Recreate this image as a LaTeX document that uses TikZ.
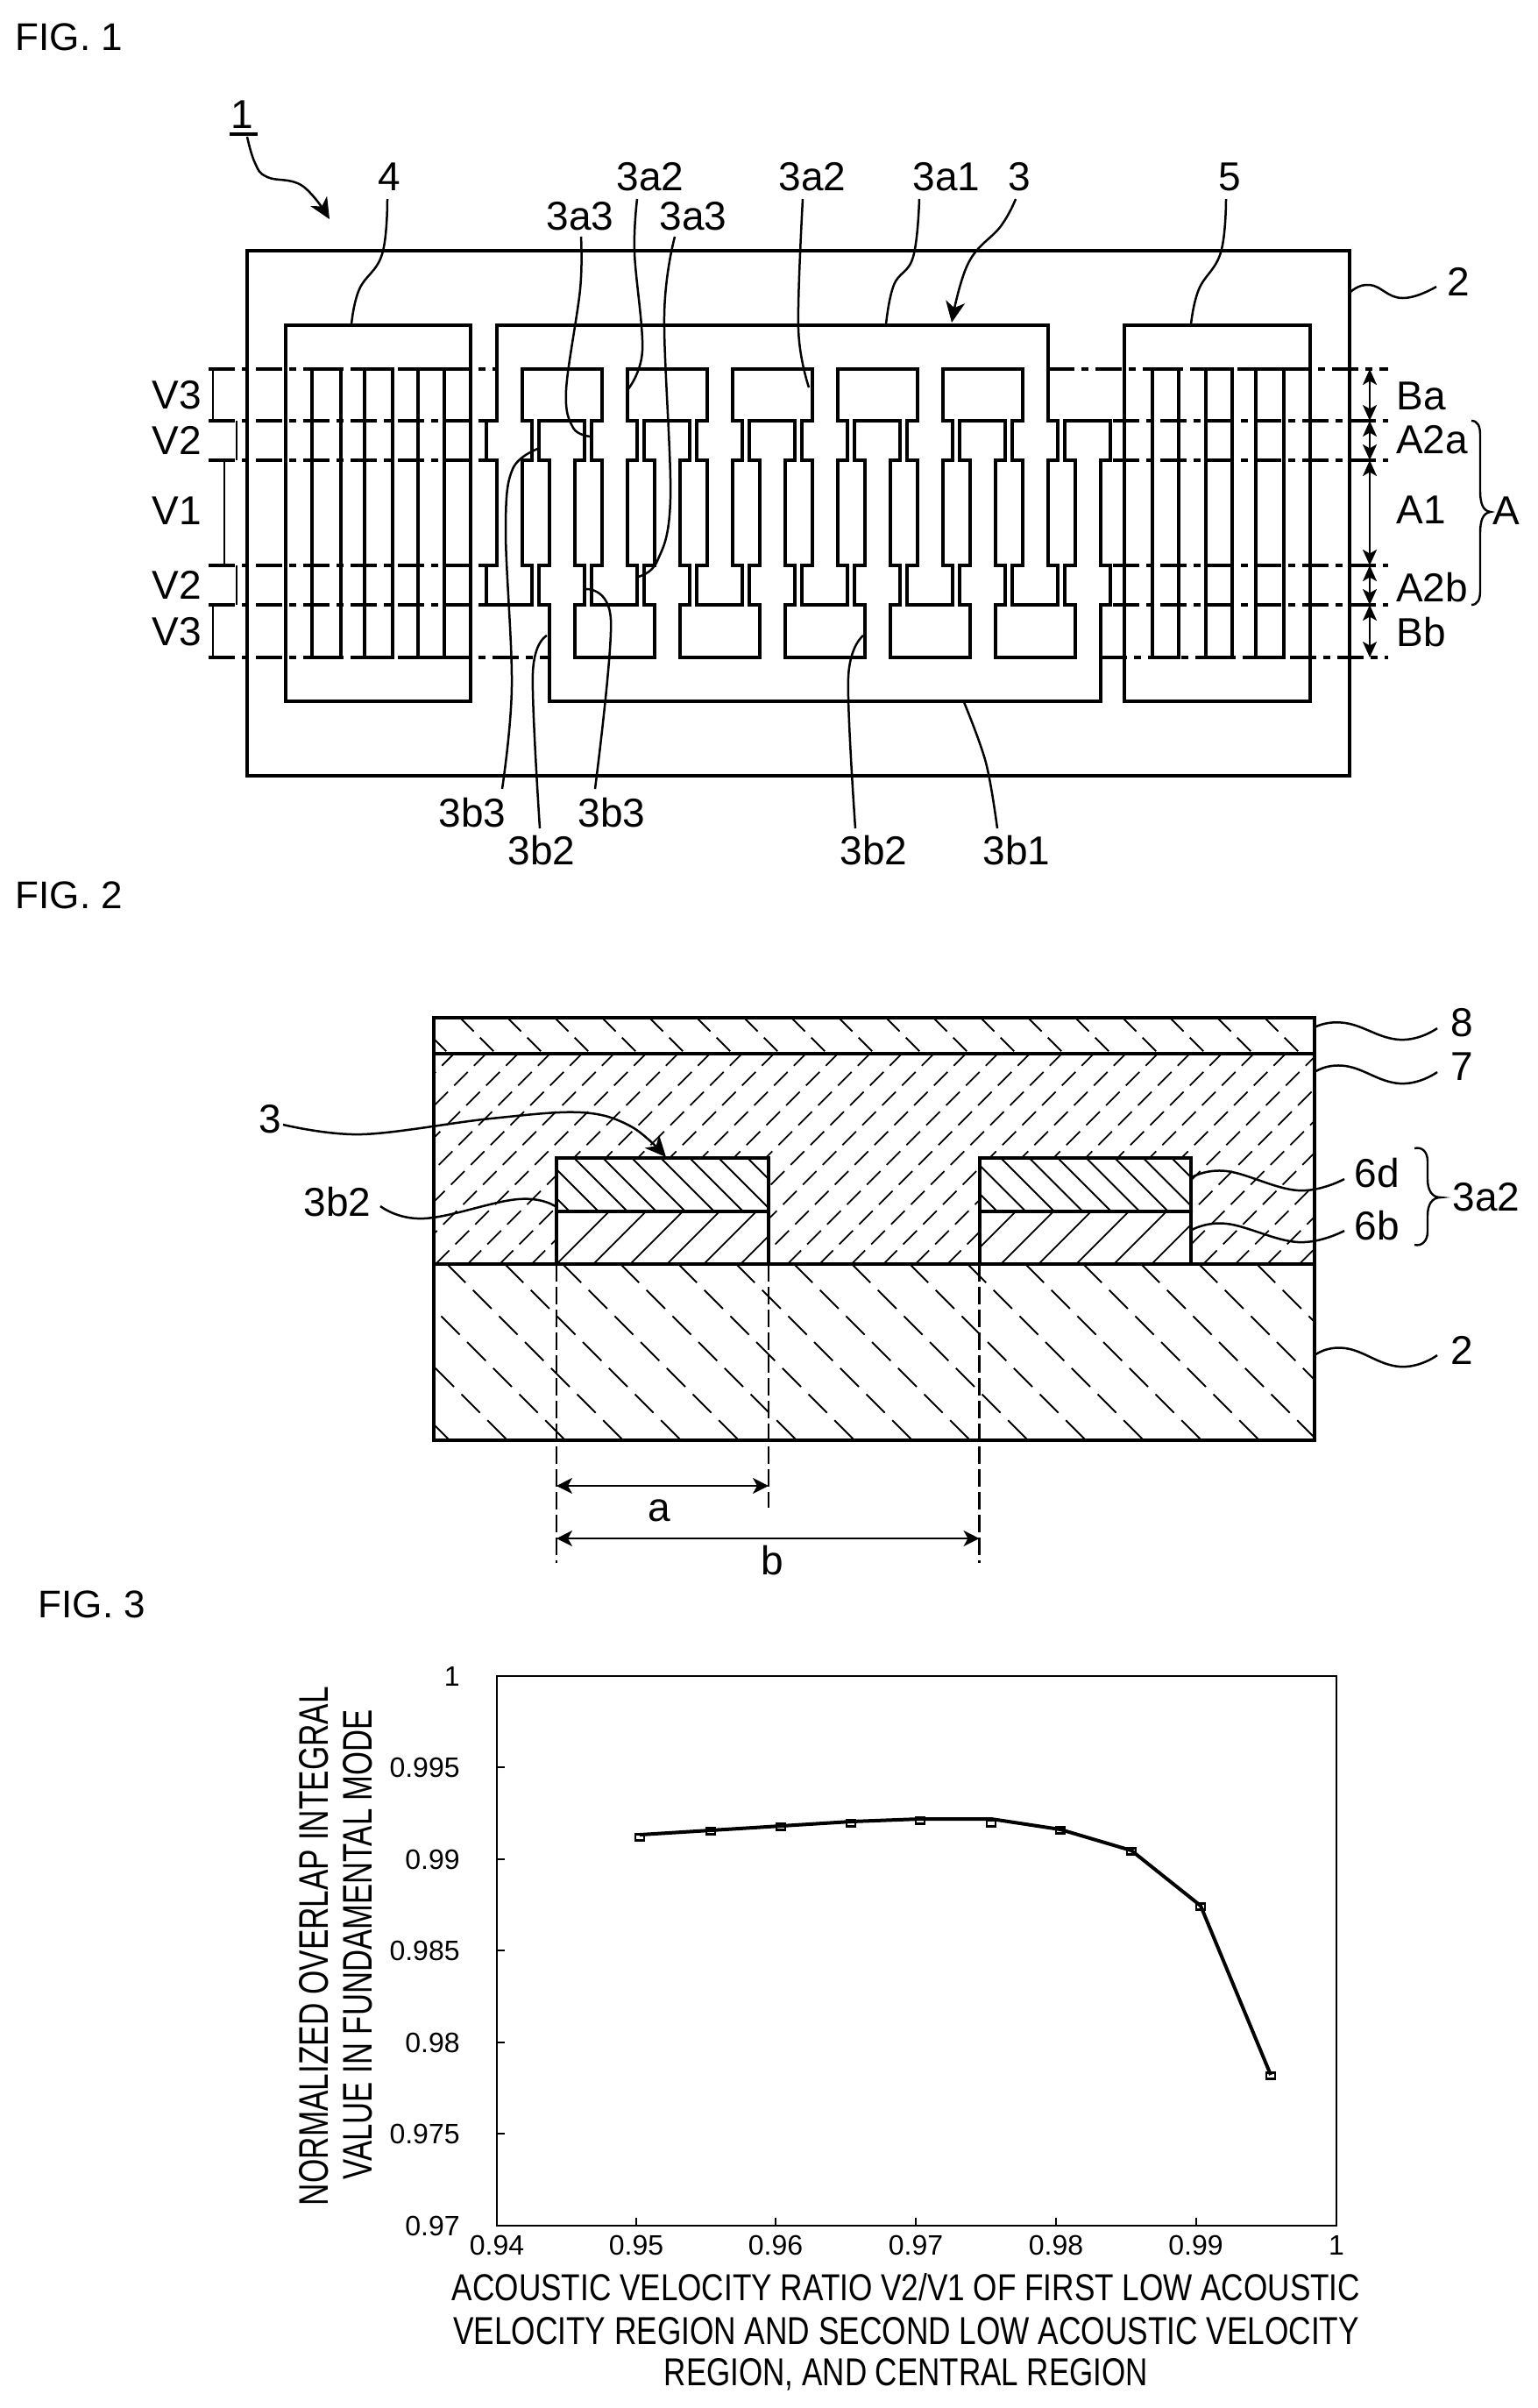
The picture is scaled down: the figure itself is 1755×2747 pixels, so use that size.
\documentclass[tikz,border=0pt]{standalone}
\usepackage{fontspec}
\usepackage{graphicx}
\setmainfont{Liberation Sans}
\usetikzlibrary{arrows.meta}
\tikzset{
  lab/.style={font=\fontsize{23}{23}\selectfont, inner sep=4pt},
  figlab/.style={font=\fontsize{22}{22}\selectfont, inner sep=0pt},
  tick/.style={font=\fontsize{16}{16}\selectfont, inner sep=0pt},
  thick1/.style={line width=2pt, line join=miter},
  thin1/.style={line width=1.2pt},
  ldr/.style={line width=1.25pt},
  tipped/.style={-{Stealth[length=12pt,width=11pt,inset=3.5pt]}},
  dimtip/.style={{Stealth[length=9pt,width=8pt,inset=2.2pt]}-{Stealth[length=9pt,width=8pt,inset=2.2pt]}, line width=1.1pt},
  dd/.style={line width=1.7pt, dash pattern=on 15pt off 4pt on 4pt off 4pt},
  hatchA/.style={line width=.9pt, dash pattern=on 11pt off 5pt},
  hatchS/.style={line width=.9pt},
  vdash/.style={line width=1.2pt, dash pattern=on 10pt off 3pt},
}
\def\ya{421}\def\yb{480}\def\yc{525}\def\yd{645}\def\ye{690}\def\yf{750}
\begin{document}
\begin{tikzpicture}[x=.5pt,y=-.5pt]
\useasboundingbox (0,0) rectangle (1755,2747);
\fill[white] (0,0) rectangle (1755,2747);

% ---------- FIG 1 ----------
\node[figlab] (fig1) at (79,42) {FIG. 1};
\draw[thick1] (282,286) rectangle (1540,885);
\draw[thick1] (326,371) rectangle (537,800);
\draw[thick1] (1283,371) rectangle (1495,800);
\foreach \a/\b in {356/389,416/448,477/507,1315/1345,1376/1406,1433/1465}
  \draw[thick1] (\a,\ya) rectangle (\b,\yf);

% upper comb 3a1
\draw[thick1] (566.5,371) -- (566.5,\yb) -- (555,\yb) -- (555,\yc) -- (566.5,\yc) -- (566.5,\yd) -- (555,\yd) -- (555,\ye)
 foreach \k in {0,...,4} {
  -- ({581+120*\k+26},\ye) -- ({581+120*\k+26},\yd) -- ({581+120*\k+14.5},\yd) -- ({581+120*\k+14.5},\yc)
  -- ({581+120*\k+26},\yc) -- ({581+120*\k+26},\yb) -- ({581+120*\k+14.5},\yb) -- ({581+120*\k+14.5},\ya)
  -- ({581+120*\k+105.5},\ya) -- ({581+120*\k+105.5},\yb) -- ({581+120*\k+94},\yb) -- ({581+120*\k+94},\yc)
  -- ({581+120*\k+105.5},\yc) -- ({581+120*\k+105.5},\yd) -- ({581+120*\k+94},\yd) -- ({581+120*\k+94},\ye)
 }
 -- (1207,\ye) -- (1207,\yd) -- (1195.5,\yd) -- (1195.5,\yc) -- (1207,\yc) -- (1207,\yb) -- (1195.5,\yb) -- (1195.5,371) -- cycle;

% lower comb 3b1
\draw[thick1] (627,800) -- (627,\ye) -- (615,\ye) -- (615,\yd) -- (627,\yd) -- (627,\yc) -- (615,\yc) -- (615,\yb)
 foreach \k in {0,...,4} {
  -- ({641+120*\k+26},\yb) -- ({641+120*\k+26},\yc) -- ({641+120*\k+14.5},\yc) -- ({641+120*\k+14.5},\yd)
  -- ({641+120*\k+26},\yd) -- ({641+120*\k+26},\ye) -- ({641+120*\k+14.5},\ye) -- ({641+120*\k+14.5},\yf)
  -- ({641+120*\k+105.5},\yf) -- ({641+120*\k+105.5},\ye) -- ({641+120*\k+94},\ye) -- ({641+120*\k+94},\yd)
  -- ({641+120*\k+105.5},\yd) -- ({641+120*\k+105.5},\yc) -- ({641+120*\k+94},\yc) -- ({641+120*\k+94},\yb)
 }
 -- (1267,\yb) -- (1267,\yc) -- (1255.5,\yc) -- (1255.5,\yd) -- (1267,\yd) -- (1267,\ye) -- (1255.5,\ye) -- (1255.5,800) -- cycle;

% dash-dot lines
\draw[dd] (238,\ya) -- (566,\ya);
\draw[dd] (1196,\ya) -- (1584,\ya);
\foreach \y in {\yb,\yc,\yd,\ye} {
  \draw[dd] (238,\y) -- (555,\y);
  \draw[dd] (1270,\y) -- (1584,\y);
}
\draw[dd] (238,\yf) -- (627,\yf);
\draw[dd] (1256,\yf) -- (1584,\yf);

% left dimension brackets
\draw[thin1] (243,\ya) -- (243,\yb);
\draw[thin1] (270,\yb) -- (270,\yc);
\draw[thin1] (256,\yc) -- (256,\yd);
\draw[thin1] (270,\yd) -- (270,\ye);
\draw[thin1] (243,\ye) -- (243,\yf);
\node[lab] (v3a) at (202,451) {V3};
\node[lab] (v2a) at (202,502) {V2};
\node[lab] (v1) at (202,583) {V1};
\node[lab] (v2b) at (202,667) {V2};
\node[lab] (v3b) at (202,721) {V3};

% right dimensions
\coordinate (r1) at (1563,\ya); \coordinate (r2) at (1563,\yb); \coordinate (r3) at (1563,\yc);
\coordinate (r4) at (1563,\yd); \coordinate (r5) at (1563,\ye); \coordinate (r6) at (1563,\yf);
\draw[dimtip] (r1) -- (r2);
\draw[dimtip] (r2) -- (r3);
\draw[dimtip] (r3) -- (r4);
\draw[dimtip] (r4) -- (r5);
\draw[dimtip] (r5) -- (r6);
\node[lab] (ba) at (1622,452) {Ba};
\node[lab] (a2a) at (1634,502) {A2a};
\node[lab] (a1) at (1622,582) {A1};
\node[lab] (a2b) at (1634,670) {A2b};
\node[lab] (bb) at (1622,721) {Bb};
\node[lab] (A) at (1719,583) {A};
\draw[thin1] (1679,480) .. controls (1686,480) and (1689,486) .. (1689,496) -- (1689,560) .. controls (1689,574) and (1692,583) .. (1701,584)
  .. controls (1692,585) and (1689,594) .. (1689,608) -- (1689,674) .. controls (1689,684) and (1686,690) .. (1679,690);

% labels and leaders
\node[lab] (one) at (276,131) {1};
\draw[line width=1.6pt] (262,153) -- (294,153);
\draw[ldr,tipped] plot[smooth,tension=.7] coordinates {(282,156) (291,186) (305,202) (345,212) (376,250)};
\node[lab] (n4) at (444,202) {4};
\draw[ldr] plot[smooth,tension=.7] coordinates {(442,227) (436,290) (410,330) (401,370)};
\node[lab] (n3a3a) at (662,247) {3a3};
\draw[ldr] plot[smooth,tension=.6] coordinates {(663,270) (662,330) (646,445) (654,488) (674,498)};
\node[lab] (n3a2a) at (742,202) {3a2};
\draw[ldr] plot[smooth,tension=.6] coordinates {(727,227) (724,288) (733,400) (716,445)};
\node[lab] (n3a3b) at (791,247) {3a3};
\draw[ldr] plot[smooth,tension=.6] coordinates {(770,270) (758,360) (765,569) (750,640) (728,658)};
\node[lab] (n3a2b) at (927,202) {3a2};
\draw[ldr] plot[smooth,tension=.6] coordinates {(916,227) (911,375) (923,442)};
\node[lab] (n3a1) at (1080,202) {3a1};
\draw[ldr] plot[smooth,tension=.7] coordinates {(1049,227) (1042,293) (1020,325) (1011,370)};
\node[lab] (n3) at (1163,202) {3};
\draw[ldr,tipped] plot[smooth,tension=.7] coordinates {(1159,227) (1142,258) (1105,300) (1086,368)};
\node[lab] (n5) at (1403,202) {5};
\draw[ldr] plot[smooth,tension=.7] coordinates {(1399,227) (1393,288) (1368,330) (1359,370)};
\node[lab] (n2a) at (1664,321) {2};
\draw[ldr] plot[smooth,tension=.8] coordinates {(1540,334) (1563,325) (1600,340) (1639,327)};

\node[lab] (n3b3a) at (539,927) {3b3};
\draw[ldr] plot[smooth,tension=.6] coordinates {(573,900) (584,783) (577,605) (585,535) (616,511)};
\node[lab] (n3b2a) at (618,970) {3b2};
\draw[ldr] plot[smooth,tension=.6] coordinates {(616,945) (608,768) (624,725)};
\node[lab] (n3b3b) at (698,927) {3b3};
\draw[ldr] plot[smooth,tension=.6] coordinates {(679,900) (697,707) (667,672)};
\node[lab] (n3b2b) at (997,970) {3b2};
\draw[ldr] plot[smooth,tension=.6] coordinates {(976,945) (968,773) (985,725)};
\node[lab] (n3b1) at (1160,970) {3b1};
\draw[ldr] plot[smooth,tension=.6] coordinates {(1138,945) (1125,870) (1100,801)};

% ---------- FIG 2 ----------
\node[figlab] (fig2) at (79,1021) {FIG. 2};
\begin{scope}
  \clip (495,1161) rectangle (1500,1202);
  \foreach \k in {-1,...,19} \draw[hatchA] ({525+54*\k},1161) -- ++(41,41);
\end{scope}
\begin{scope}
  \clip (495,1202) rectangle (1500,1442);
  \foreach \k in {-7,...,28} \draw[hatchA] ({497+36.5*\k},1442) -- ++(241,-241);
\end{scope}
\begin{scope}
  \clip (495,1442) rectangle (1500,1643);
  \foreach \k in {-4,...,16} \draw[hatchA,dash pattern=on 15pt off 6pt] ({510+66*\k},1442) -- ++(201,201);
\end{scope}
\foreach \l in {635,1117.5} {
  \fill[white] (\l,1321) rectangle ({\l+242},1442);
}
\begin{scope}
  \clip (635,1321) rectangle (877,1381);
  \foreach \k in {-2,...,7} \draw[hatchS] ({655+33*\k},1321) -- ++(61,61);
\end{scope}
\begin{scope}
  \clip (635,1381) rectangle (877,1442);
  \foreach \k in {0,...,6} \draw[hatchS] ({635+42*\k},1442) -- ++(61,-61);
\end{scope}
\begin{scope}
  \clip (1117.5,1321) rectangle (1359,1381);
  \foreach \k in {-2,...,7} \draw[hatchS] ({1142+32.5*\k},1321) -- ++(61,61);
\end{scope}
\begin{scope}
  \clip (1117.5,1381) rectangle (1359,1442);
  \foreach \k in {-1,...,5} \draw[hatchS] ({1142+43*\k},1442) -- ++(61,-61);
\end{scope}
\draw[thick1] (495,1161) rectangle (1500,1643);
\draw[thick1] (495,1202) -- (1500,1202);
\draw[thick1] (495,1442) -- (1500,1442);
\draw[thick1] (635,1321) rectangle (877,1442);
\draw[thick1] (635,1381.5) -- (877,1381.5);
\draw[thick1] (1117.5,1321) rectangle (1359,1442);
\draw[thick1] (1117.5,1381.5) -- (1359,1381.5);

\draw[vdash] (635,1442) -- (635,1783);
\draw[vdash] (877,1442) -- (877,1720);
\draw[vdash] (1117.5,1442) -- (1117.5,1783);
\coordinate (da) at (635,1695); \coordinate (db) at (877,1695);
\coordinate (dc) at (635,1755); \coordinate (dd) at (1117.5,1755);
\draw[{Stealth[length=9pt,width=9pt,inset=2.5pt]}-{Stealth[length=9pt,width=9pt,inset=2.5pt]},line width=1.2pt] (da) -- (db);
\draw[{Stealth[length=9pt,width=9pt,inset=2.5pt]}-{Stealth[length=9pt,width=9pt,inset=2.5pt]},line width=1.2pt] (dc) -- (dd);
\node[lab] (la) at (752,1723) {a};
\node[lab] (lb) at (881,1780) {b};

\node[lab] (f2n3) at (308,1277) {3};
\draw[ldr,tipped] plot[smooth,tension=.6] coordinates {(323,1283) (413,1294) (560,1276) (663,1269) (720,1285) (760,1320)};
\node[lab] (f2n3b2) at (385,1371) {3b2};
\draw[ldr] plot[smooth,tension=.7] coordinates {(434,1376) (484,1390) (591,1368) (635,1377)};
\node[lab] (f2n8) at (1668,1167) {8};
\draw[ldr] plot[smooth,tension=.8] coordinates {(1500,1172) (1535,1167) (1597,1186) (1640,1173)};
\node[lab] (f2n7) at (1668,1217) {7};
\draw[ldr] plot[smooth,tension=.8] coordinates {(1500,1223) (1535,1216) (1597,1236) (1640,1223)};
\node[lab] (f2n2) at (1668,1540) {2};
\draw[ldr] plot[smooth,tension=.8] coordinates {(1500,1546) (1535,1538) (1597,1559) (1640,1546)};
\node[lab] (f2n6d) at (1571,1338) {6d};
\draw[ldr] plot[smooth,tension=.7] coordinates {(1360,1343) (1400,1336) (1481,1358) (1534,1345)};
\node[lab] (f2n6b) at (1571,1398) {6b};
\draw[ldr] plot[smooth,tension=.7] coordinates {(1360,1403) (1400,1396) (1481,1417) (1534,1404)};
\node[lab] (f2n3a2) at (1696,1366) {3a2};
\draw[thin1] (1614,1310) .. controls (1622,1308) and (1629,1313) .. (1629,1325) -- (1629,1345) .. controls (1629,1358) and (1634,1366) .. (1644,1366)
  .. controls (1634,1366) and (1629,1374) .. (1629,1387) -- (1629,1405) .. controls (1629,1416) and (1622,1422) .. (1614,1420);

% ---------- FIG 3 ----------
\node[figlab] (fig3) at (105,1830) {FIG. 3};
\draw[line width=1.4pt] (567,1912) rectangle (1525,2539);
\foreach \x in {726,885,1045,1205,1364.5}
  \draw[line width=1pt] (\x,2539) -- (\x,2530);
\foreach \y in {2016,2121,2225,2330,2434}
  \draw[line width=1pt] (567,\y) -- (576,\y);
\foreach \y/\t in {1912/1,2016/0.995,2121/0.99,2225/0.985,2330/0.98,2434/0.975,2539/0.97}
  \node[tick,anchor=east] (yt\t) at (525,\y) {\t};
\foreach \x/\t in {567/0.94,726/0.95,885/0.96,1045/0.97,1205/0.98,1364.5/0.99,1525/1}
  \node[tick] (xt\t) at (\x,2561) {\t};

\draw[line width=2pt,line join=round] (730,2093) -- (811,2088) -- (891,2083) -- (971,2078) -- (1050,2075) -- (1131,2075) -- (1210,2087) -- (1291,2111) -- (1370,2174) -- (1450,2367);
\foreach \x/\y in {730/2096,811/2089,891/2084,971/2080,1050/2077,1131/2080,1210/2088,1291/2112,1370/2175,1450/2368}
  \draw[line width=1.2pt] ({\x-5},{\y-3.5}) rectangle ({\x+5},{\y+3.5});

\node[inner sep=0pt,rotate=90] (yl1) at (358,2220) {\resizebox{296pt}{16.5pt}{NORMALIZED OVERLAP INTEGRAL}};
\node[inner sep=0pt,rotate=90] (yl2) at (408,2218) {\resizebox{268pt}{16.5pt}{VALUE IN FUNDAMENTAL MODE}};
\node[inner sep=0pt] (xl1) at (1034,2609) {\resizebox{518pt}{15.5pt}{ACOUSTIC VELOCITY RATIO V2/V1 OF FIRST LOW ACOUSTIC}};
\node[inner sep=0pt] (xl2) at (1034,2659) {\resizebox{517pt}{15.5pt}{VELOCITY REGION AND SECOND LOW ACOUSTIC VELOCITY}};
\node[inner sep=0pt] (xl3) at (1034,2709) {\resizebox{276pt}{15.5pt}{REGION, AND CENTRAL REGION}};
\end{tikzpicture}
\end{document}
